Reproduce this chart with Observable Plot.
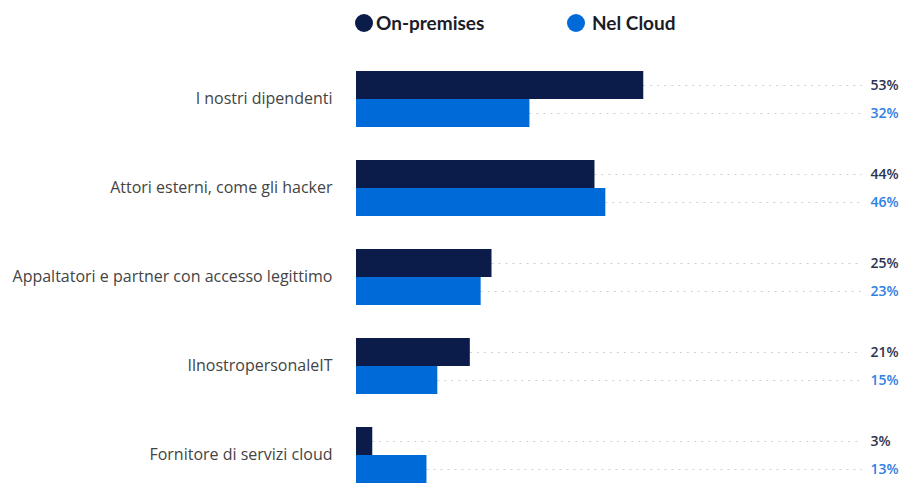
<!DOCTYPE html>
<html>
<head>
<meta charset="utf-8">
<script src="https://cdn.jsdelivr.net/npm/d3@7"></script>
<script src="https://cdn.jsdelivr.net/npm/@observablehq/plot@0.6"></script>
<style>
  html, body { margin: 0; padding: 0; background: #fff; overflow: hidden; }
  #legend { position: relative; height: 52px; width: 906px; font-family: Lato, "Open Sans", sans-serif; font-weight: 700; font-size: 19px; color: #1c1c28; }
  .item { position: absolute; top: 11px; display: flex; align-items: center; }
  .dot { width: 18px; height: 18px; border-radius: 50%; display: inline-block; margin-right: 3px; }
  #chart svg { display: block; }
</style>
</head>
<body>
<div id="legend"></div>
<div id="chart"></div>
<script>
const categories = [
  "I nostri dipendenti",
  "Attori esterni, come gli hacker",
  "Appaltatori e partner con accesso legittimo",
  "IlnostropersonaleIT",
  "Fornitore di servizi cloud"
];
const series = ["On-premises", "Nel Cloud"];
const onPremises = [53, 44, 25, 21, 3];
const nelCloud = [32, 46, 23, 15, 13];
const xMax = 100;
const barColors = ["#0c1c4a", "#006ad9"];
const labelColors = ["#2b3350", "#2f80e2"];

const data = categories.flatMap((c, i) => [
  {cat: c, series: series[0], value: onPremises[i]},
  {cat: c, series: series[1], value: nelCloud[i]}
]);

// legend
const legend = document.getElementById("legend");
const legendLeft = [355, 567];
series.forEach((s, i) => {
  const it = document.createElement("div");
  it.className = "item";
  it.style.left = legendLeft[i] + "px";
  const dot = document.createElement("span");
  dot.className = "dot";
  dot.style.background = barColors[i];
  if (i === 1) dot.style.marginRight = "7px";
  const t = document.createElement("span");
  t.textContent = s;
  it.appendChild(dot); it.appendChild(t);
  legend.appendChild(it);
});

const chart = Plot.plot({
  width: 906,
  height: 460,
  marginTop: 0,
  marginBottom: 11,
  marginLeft: 356,
  marginRight: 8,
  style: {fontFamily: "'Open Sans', sans-serif", fontSize: "16px", color: "#444", background: "#fff"},
  x: {domain: [0, xMax], axis: null},
  y: {domain: series, axis: null, paddingInner: 0, paddingOuter: 0.547},
  fy: {domain: categories, padding: 0, label: null, tickSize: 0, tickPadding: 24},
  color: {domain: series, range: barColors},
  marks: [
    Plot.ruleY(data, {fy: "cat", y: "series", x1: "value", x2: () => xMax, insetRight: 36, stroke: "#cfcfcf", strokeWidth: 1, strokeDasharray: "2,5"}),
    Plot.barX(data, {fy: "cat", y: "series", x: "value", fill: "series"}),
    ...series.map((s, i) => Plot.text(data.filter(d => d.series === s), {
      fy: "cat", y: "series", text: d => d.value + "%",
      frameAnchor: "right", dx: -28, textAnchor: "start",
      fill: labelColors[i], fontSize: 14, fontWeight: 600
    }))
  ]
});
document.getElementById("chart").appendChild(chart);
</script>
</body>
</html>
